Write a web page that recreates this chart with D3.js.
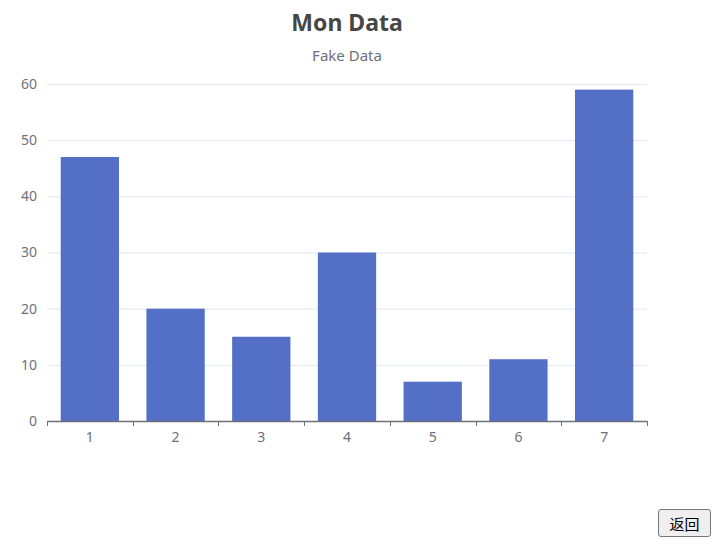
<!DOCTYPE html>
<html>
<head>
<meta charset="utf-8">
<script src="https://cdn.jsdelivr.net/npm/d3@7"></script>
<style>
  body { margin: 0; font-family: "Noto Sans", "Noto Sans CJK SC", sans-serif; }
  #wrap { position: relative; width: 719px; height: 547px; }
  #back { position: absolute; left: 658px; top: 509px; width: 53px; height: 28px;
    font-size: 15px; font-family: "Noto Sans CJK SC", sans-serif; padding: 0;
    background: #efefef; border: 1px solid #767676; border-radius: 3px; }
</style>
</head>
<body>
<div id="wrap">
<button id="back">返回</button>
</div>
<script>
const categories = ['1', '2', '3', '4', '5', '6', '7'];
const values = [47, 20, 15, 30, 7, 11, 59];
const yTicks = [0, 10, 20, 30, 40, 50, 60];
const titleText = 'Mon Data';
const subtitleText = 'Fake Data';

const margin = {top: 84, bottom: 126, left: 47, right: 72};
const width = 719 - margin.left - margin.right;
const height = 547 - margin.top - margin.bottom;

const svg = d3.select('#wrap').append('svg')
  .attr('width', 719)
  .attr('height', 547)
  .style('position', 'absolute').style('left', 0).style('top', 0);

svg.append('text')
  .attr('x', 347).attr('y', 31)
  .attr('text-anchor', 'middle')
  .attr('font-size', 23).attr('font-weight', 'bold')
  .attr('fill', '#464646')
  .text(titleText);

svg.append('text')
  .attr('x', 347).attr('y', 61)
  .attr('text-anchor', 'middle')
  .attr('font-size', 15)
  .attr('fill', '#6e7079')
  .text(subtitleText);

const g = svg.append('g')
  .attr('transform', `translate(${margin.left},${margin.top})`);

const x = d3.scaleBand().domain(categories).range([0, width]).padding(0);
const y = d3.scaleLinear().domain([0, 60]).range([height, 0]);

// grid
g.selectAll('line.grid').data(yTicks.filter(d => d > 0)).join('line')
  .attr('class', 'grid')
  .attr('x1', 0).attr('x2', width)
  .attr('y1', d => y(d) + 0.5).attr('y2', d => y(d) + 0.5)
  .attr('stroke', '#e0e6f1');

// y labels
g.selectAll('text.ylab').data(yTicks).join('text')
  .attr('class', 'ylab')
  .attr('x', -10).attr('y', d => y(d))
  .attr('dy', '0.35em')
  .attr('text-anchor', 'end')
  .attr('font-size', 14)
  .attr('fill', '#6e7079')
  .text(d => d);

// bars
const barW = x.bandwidth() * 0.68;
g.selectAll('rect').data(values).join('rect')
  .attr('x', (d, i) => x(categories[i]) + (x.bandwidth() - barW) / 2)
  .attr('width', barW)
  .attr('y', d => y(d))
  .attr('height', d => height - y(d))
  .attr('fill', '#5470c6');

// x axis
const xAxis = g.append('g')
  .attr('transform', `translate(0,${height})`);
xAxis.append('line')
  .attr('x1', 0).attr('x2', width)
  .attr('y1', 0.5).attr('y2', 0.5)
  .attr('stroke', '#6e7079').attr('stroke-width', 1.3);
const tickPos = categories.map(c => x(c)).concat([width]);
xAxis.selectAll('line.tick').data(tickPos).join('line')
  .attr('class', 'tick')
  .attr('x1', d => Math.round(d) + 0.5).attr('x2', d => Math.round(d) + 0.5)
  .attr('y1', 0).attr('y2', 5)
  .attr('stroke', '#6e7079');
xAxis.selectAll('text').data(categories).join('text')
  .attr('x', d => x(d) + x.bandwidth() / 2)
  .attr('y', 21)
  .attr('text-anchor', 'middle')
  .attr('font-size', 14)
  .attr('fill', '#6e7079')
  .text(d => d);
</script>
</body>
</html>
